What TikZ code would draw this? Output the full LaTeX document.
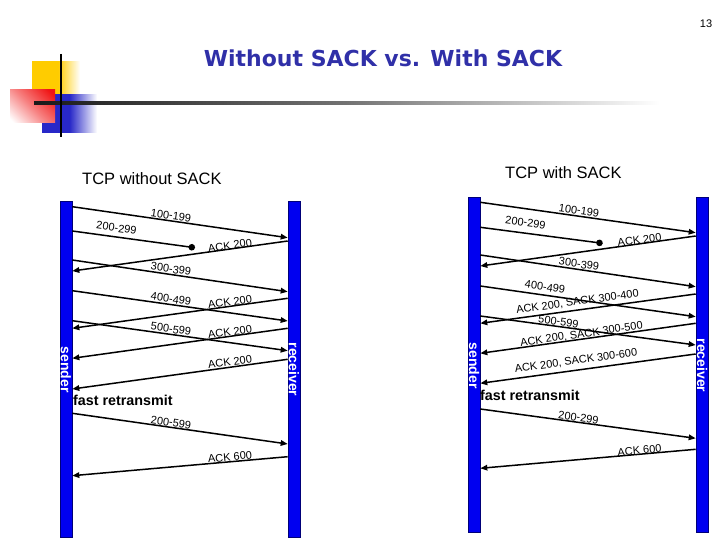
\documentclass[tikz,border=0pt]{standalone}
\usepackage{fontspec}
\setmainfont{Liberation Sans}
\newfontfamily\titlefont{DejaVu Sans}
\usetikzlibrary{arrows.meta}
\definecolor{titleblue}{RGB}{48,48,168}
\definecolor{barblue}{RGB}{0,0,240}
\definecolor{baredge}{RGB}{0,0,120}
\definecolor{logoyellow}{RGB}{255,204,0}
\definecolor{logored}{RGB}{240,20,20}
\definecolor{logoblue}{RGB}{40,40,200}
\pgfdeclarehorizontalshading{yfade}{100bp}{color(0bp)=(logoyellow); color(25bp)=(logoyellow); color(52bp)=(logoyellow); color(75bp)=(white); color(100bp)=(white)}
\pgfdeclarehorizontalshading{bfade}{100bp}{color(0bp)=(logoblue); color(25bp)=(logoblue); color(50bp)=(logoblue); color(75bp)=(white); color(100bp)=(white)}
\pgfdeclarehorizontalshading{rfade}{100bp}{color(0bp)=(white); color(18bp)=(white); color(50bp)=(logored!55); color(80bp)=(logored); color(100bp)=(logored)}
\pgfdeclarehorizontalshading{lfade}{100bp}{color(0bp)=(black); color(25bp)=(black!90); color(50bp)=(black!55); color(75bp)=(white); color(100bp)=(white)}
\tikzset{
  bar/.style={draw=baredge, fill=barblue, line width=0.6pt, minimum width=12pt, inner sep=0pt},
  bartext/.style={text=white, font=\bfseries\fontsize{14}{16}\selectfont, rotate=-90, inner sep=0pt},
  msg/.style={draw, line width=1.5pt, -{Triangle[length=7pt,width=5.5pt]}},
  lostmsg/.style={draw, line width=1.5pt, -{Circle[length=6.5pt]}},
  lbl/.style={font=\fontsize{11}{13}\selectfont, inner sep=0pt},
  fr/.style={font=\bfseries\fontsize{14.3}{17}\selectfont, inner sep=0pt, anchor=west},
  subtitle/.style={font=\fontsize{16.5}{19}\selectfont, inner sep=0pt, anchor=base west}
}
\begin{document}
\begin{tikzpicture}[x=1pt, y=-1pt]
\useasboundingbox (0,0) rectangle (720,540);
% logo
\shade[shading=yfade] (32,62) rectangle (80,110);
\shade[shading=bfade] (42,95) rectangle (97,133);
\shade[shading=rfade, shading angle=45] (10,90) rectangle (55,123);
\shade[shading=lfade] (34,102) rectangle (660,104.2);
\draw[line width=2pt] (61,54) -- (61,137);
% page number and title
\node[font=\fontsize{11}{13}\selectfont, inner sep=0pt] (pgnum) at (706,24) {13};
\node[font=\titlefont\bfseries\fontsize{22}{26}\selectfont, text=titleblue, inner sep=0pt, anchor=base] (title) at (383,66.7) {Without SACK vs. With SACK};
\node[subtitle] (t1) at (82,185) {TCP without SACK};
\node[subtitle] (t2) at (505,179) {TCP with SACK};
% ---------- left diagram ----------
\node[bar, minimum height=336pt] (ls) at (66,369) {};
\node[bar, minimum height=336pt] (lr) at (294,369) {};
\node[bartext] (lst) at (66,369.5) {sender};
\node[bartext] (lrt) at (294,369.5) {receiver};
\coordinate (lost1) at (195,247.7);
\draw[msg] (ls.east |- 0,206.7) -- (lr.west |- 0,237.7);
\draw[lostmsg] (ls.east |- 0,231) -- (lost1);
\draw[msg] (lr.west |- 0,241) -- (ls.east |- 0,271);
\draw[msg] (ls.east |- 0,260) -- (lr.west |- 0,291.7);
\draw[msg] (ls.east |- 0,290.7) -- (lr.west |- 0,321);
\draw[msg] (lr.west |- 0,298.3) -- (ls.east |- 0,328.3);
\draw[msg] (ls.east |- 0,320.7) -- (lr.west |- 0,350.7);
\draw[msg] (lr.west |- 0,328.3) -- (ls.east |- 0,358.3);
\draw[msg] (lr.west |- 0,359.3) -- (ls.east |- 0,389);
\draw[msg] (ls.east |- 0,413.3) -- (lr.west |- 0,444);
\draw[msg] (lr.west |- 0,456.7) -- (ls.east |- 0,475.7);
\node[lbl, rotate=-8] (la1) at (171,215.5) {100-199};
\node[lbl, rotate=-8] (la2) at (116.5,228) {200-299};
\node[lbl, rotate=8] (la3) at (230,245.5) {ACK 200};
\node[lbl, rotate=-8] (la4) at (171,269) {300-399};
\node[lbl, rotate=-8] (la5) at (171,299) {400-499};
\node[lbl, rotate=8] (la6) at (230,302) {ACK 200};
\node[lbl, rotate=-8] (la7) at (171,329) {500-599};
\node[lbl, rotate=8] (la8) at (230,332) {ACK 200};
\node[lbl, rotate=8] (la9) at (230,362) {ACK 200};
\node[fr] (lfr) at (73,400) {fast retransmit};
\node[lbl, rotate=-8] (la10) at (171,422.5) {200-599};
\node[lbl, rotate=5] (la11) at (230,457) {ACK 600};
% ---------- right diagram ----------
\node[bar, minimum height=335pt] (rs) at (474,364.5) {};
\node[bar, minimum height=335pt] (rr) at (702,364.5) {};
\node[bartext] (rst) at (474,365.5) {sender};
\node[bartext] (rrt) at (702,365.5) {receiver};
\coordinate (lost2) at (602.7,243.3);
\draw[msg] (rs.east |- 0,202.3) -- (rr.west |- 0,232.7);
\draw[lostmsg] (rs.east |- 0,227.3) -- (lost2);
\draw[msg] (rr.west |- 0,236) -- (rs.east |- 0,266);
\draw[msg] (rs.east |- 0,255) -- (rr.west |- 0,286.7);
\draw[msg] (rs.east |- 0,286) -- (rr.west |- 0,316.7);
\draw[msg] (rr.west |- 0,294) -- (rs.east |- 0,323.3);
\draw[msg] (rs.east |- 0,316) -- (rr.west |- 0,345);
\draw[msg] (rr.west |- 0,323.3) -- (rs.east |- 0,353.3);
\draw[msg] (rr.west |- 0,354) -- (rs.east |- 0,383.3);
\draw[msg] (rs.east |- 0,409) -- (rr.west |- 0,438.3);
\draw[msg] (rr.west |- 0,449.3) -- (rs.east |- 0,468.3);
\node[lbl, rotate=-8] (ra1) at (579,210.5) {100-199};
\node[lbl, rotate=-8] (ra2) at (525.5,222.5) {200-299};
\node[lbl, rotate=8] (ra3) at (639.5,240) {ACK 200};
\node[lbl, rotate=-8] (ra4) at (579,264) {300-399};
\node[lbl, rotate=-8] (ra5) at (545,287) {400-499};
\node[lbl, rotate=8] (ra6) at (577.5,302) {ACK 200, SACK 300-400};
\node[lbl, rotate=-8] (ra7) at (558.5,321.5) {500-599};
\node[lbl, rotate=8] (ra8) at (581.5,334.5) {ACK 200, SACK 300-500};
\node[lbl, rotate=8] (ra9) at (576,361) {ACK 200, SACK 300-600};
\node[fr] (rfr) at (480,395.5) {fast retransmit};
\node[lbl, rotate=-8] (ra10) at (578.5,417.5) {200-299};
\node[lbl, rotate=5] (ra11) at (639.5,450.5) {ACK 600};
\end{tikzpicture}
\end{document}
